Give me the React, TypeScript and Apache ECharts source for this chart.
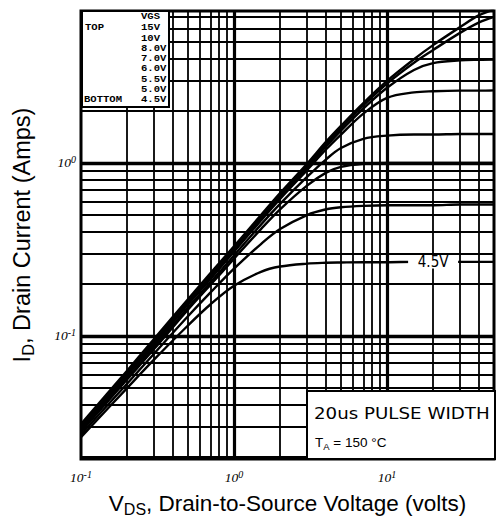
import React, { useEffect, useRef } from "react";
import * as echarts from "echarts";

// Drain-to-source voltage sample points (volts)
const VDS = [0.1, 0.2, 0.3, 0.5, 0.7, 1, 1.5, 2, 3, 4, 5, 7, 10, 15, 20, 30, 40, 50];

// Drain current (A) per gate voltage
const VGS_NAMES = ["15V", "10V", "8.0V", "7.0V", "6.0V", "5.5V", "5.0V", "4.5V"];
const ID_15V = [0.031, 0.063, 0.096, 0.163, 0.23, 0.33, 0.5, 0.67, 0.99, 1.33, 1.64, 2.22, 2.98, 3.98, 4.8, 6.1, 7.15, 7.7];
const ID_10V = [0.030, 0.061, 0.093, 0.158, 0.222, 0.32, 0.485, 0.65, 0.96, 1.29, 1.59, 2.15, 2.88, 3.8, 4.5, 5.65, 6.5, 7.0];
const ID_8V = [0.0295, 0.06, 0.091, 0.155, 0.218, 0.314, 0.475, 0.635, 0.94, 1.25, 1.54, 2.06, 2.72, 3.45, 3.78, 3.92, 3.95, 3.96];
const ID_7V = [0.029, 0.059, 0.089, 0.152, 0.213, 0.307, 0.465, 0.62, 0.91, 1.2, 1.46, 1.93, 2.38, 2.56, 2.6, 2.62, 2.62, 2.63];
const ID_6V = [0.0285, 0.057, 0.086, 0.146, 0.204, 0.292, 0.44, 0.58, 0.83, 1.05, 1.22, 1.38, 1.44, 1.46, 1.46, 1.47, 1.47, 1.47];
const ID_5V5 = [0.028, 0.056, 0.084, 0.142, 0.197, 0.28, 0.415, 0.54, 0.74, 0.88, 0.95, 0.99, 1.0, 1.0, 1.0, 1.0, 1.0, 1.0];
const ID_5V = [0.027, 0.053, 0.079, 0.13, 0.178, 0.245, 0.34, 0.415, 0.5, 0.54, 0.555, 0.565, 0.57, 0.57, 0.57, 0.575, 0.575, 0.575];
const ID_4V5 = [0.026, 0.05, 0.073, 0.115, 0.152, 0.195, 0.235, 0.252, 0.262, 0.265, 0.266, 0.267, 0.267, 0.268, 0.268, 0.268, 0.268, 0.268];

// Axis ranges
const X_MIN = 0.1;
const X_MAX = 50;
const Y_MIN = 0.01945;
const Y_MAX = 7.56;

// Log grid lines
const X_GRID = [0.2, 0.3, 0.4, 0.5, 0.6, 0.7, 0.8, 0.9, 1, 2, 3, 4, 5, 6, 7, 8, 9, 10, 20, 30, 40];
const Y_GRID = [0.02, 0.03, 0.04, 0.05, 0.06, 0.07, 0.08, 0.09, 0.1, 0.2, 0.3, 0.4, 0.5, 0.6, 0.7, 0.8, 0.9, 1, 2, 3, 4, 5, 6, 7];
const X_MAJOR = [1, 10];
const Y_MAJOR = [0.1, 1];

// In-plot curve label for the 4.5V curve
const LABEL_45_VDS = 20;
const LABEL_45_ID = 0.268;

const LEGEND_LINES = ["15V", "10V", "8.0V", "7.0V", "6.0V", "5.5V", "5.0V", "4.5V"];

export default function App() {
  const ref = useRef<HTMLDivElement>(null);

  useEffect(() => {
    const chart = echarts.init(ref.current!, null, { renderer: "svg" });
    const curves = [ID_15V, ID_10V, ID_8V, ID_7V, ID_6V, ID_5V5, ID_5V, ID_4V5];

    const powLabel = (v: number) => {
      const e = Math.log10(v);
      const r = Math.round(e);
      if (Math.abs(e - r) > 1e-6) return "";
      return `{b|10}{e|${r}}`;
    };
    const tickRich = {
      b: { fontSize: 13.5, fontFamily: "Liberation Serif", fontStyle: "italic", color: "#000", lineHeight: 17, verticalAlign: "middle" },
      e: { fontSize: 10, fontFamily: "Liberation Serif", fontStyle: "italic", color: "#000", lineHeight: 10, verticalAlign: "top" },
    };
    const xNameRich = {
      v: { fontSize: 22.5, fontFamily: "Liberation Sans", color: "#000", lineHeight: 28, verticalAlign: "middle" },
      s: { fontSize: 16, fontFamily: "Liberation Sans", color: "#000", lineHeight: 12, verticalAlign: "bottom" },
    };
    const yNameRich = {
      v: { fontSize: 23.5, fontFamily: "Liberation Sans", color: "#000", lineHeight: 28, verticalAlign: "middle" },
      s: { fontSize: 16.5, fontFamily: "Liberation Sans", color: "#000", lineHeight: 12, verticalAlign: "bottom" },
    };

    const gridLineData = [
      ...X_GRID.map((v) => ({ xAxis: v, lineStyle: { width: X_MAJOR.includes(v) ? 3.2 : 1.8 } })),
      ...Y_GRID.map((v) => ({ yAxis: v, lineStyle: { width: Y_MAJOR.includes(v) ? 3.4 : 1.8 } })),
    ];

    const series: any[] = curves.map((arr, idx) => ({
      name: VGS_NAMES[idx],
      type: "line",
      data: VDS.map((v, i) => [v, arr[i]]),
      showSymbol: false,
      symbol: "none",
      smooth: 0.35,
      silent: true,
      clip: true,
      z: 3,
      lineStyle: { color: "#000", width: 2.4 },
      markLine:
        idx === 0
          ? {
              silent: true,
              z: 1,
              symbol: ["none", "none"],
              label: { show: false },
              lineStyle: { color: "#000", type: "solid" },
              data: gridLineData,
            }
          : undefined,
      markPoint:
        idx === curves.length - 1
          ? {
              silent: true,
              z: 6,
              symbol: "rect",
              symbolSize: [50, 13],
              itemStyle: { color: "#fff" },
              label: {
                show: true,
                position: "inside",
                formatter: "4.5V",
                color: "#000",
                fontSize: 15,
                fontFamily: "DejaVu Sans Condensed",
              },
              data: [{ coord: [LABEL_45_VDS, LABEL_45_ID] }],
            }
          : undefined,
    }));

    const legendFont = { fontFamily: "Liberation Mono", fontWeight: "bold", fontSize: 8.8, fill: "#000" };
    const legendText = (text: string, x: number, y: number) => ({
      type: "text",
      z: 101,
      x,
      y,
      scaleX: 1.2,
      style: { text, ...legendFont, align: "left", verticalAlign: "middle" },
    });

    const graphic: any[] = [
      {
        type: "rect",
        z: 100,
        shape: { x: 82, y: 11, width: 87, height: 96 },
        style: { fill: "#fff", stroke: "#000", lineWidth: 2 },
      },
      legendText("VGS", 141, 17),
      legendText("TOP", 85, 28),
      legendText("BOTTOM", 84, 100),
      ...LEGEND_LINES.map((t, i) => legendText(t, 141, 28 + i * 10.3)),
      {
        type: "rect",
        z: 100,
        shape: { x: 307, y: 391, width: 188, height: 68 },
        style: { fill: "#fff", stroke: "#000", lineWidth: 2 },
      },
      {
        type: "text",
        z: 101,
        x: 314,
        y: 413,
        scaleX: 1.14,
        style: { text: "20us PULSE WIDTH", fontFamily: "DejaVu Sans", fontSize: 16, fill: "#000", align: "left", verticalAlign: "middle" },
      },
      {
        type: "text",
        z: 101,
        x: 315,
        y: 442,
        style: {
          text: "{t|T}{s|A}{t| = 150 °C}",
          align: "left",
          verticalAlign: "middle",
          rich: {
            t: { fontFamily: "Liberation Sans", fontSize: 13.5, fill: "#000", lineHeight: 18, verticalAlign: "middle" },
            s: { fontFamily: "Liberation Sans", fontSize: 9.5, fill: "#000", lineHeight: 8, verticalAlign: "bottom" },
          },
        },
      },
    ];

    chart.setOption({
      animation: false,
      backgroundColor: "#fff",
      grid: {
        left: 81,
        right: 2,
        top: 11,
        bottom: 58,
        containLabel: false,
        outerBoundsMode: "none",
        show: true,
        borderColor: "#000",
        borderWidth: 3,
        backgroundColor: "#fff",
      },
      xAxis: {
        type: "log",
        logBase: 10,
        min: X_MIN,
        max: X_MAX,
        name: "{v|V}{s|DS}{v|, Drain-to-Source Voltage (volts)}",
        nameLocation: "middle",
        nameGap: 30,
        nameTextStyle: { rich: xNameRich },
        axisLine: { show: false },
        axisTick: { show: false },
        splitLine: { show: false },
        minorSplitLine: { show: false },
        axisLabel: { show: true, showMinLabel: true, showMaxLabel: true, margin: 10, formatter: powLabel, rich: tickRich },
      },
      yAxis: {
        type: "log",
        logBase: 10,
        min: Y_MIN,
        max: Y_MAX,
        name: "{v|I}{s|D}{v|, Drain Current (Amps)}",
        nameLocation: "middle",
        nameGap: 45,
        nameTextStyle: { rich: yNameRich },
        axisLine: { show: false },
        axisTick: { show: false },
        splitLine: { show: false },
        axisLabel: { show: true, margin: 5, formatter: powLabel, rich: tickRich },
      },
      series,
      graphic,
    });

    return () => chart.dispose();
  }, []);

  return (
    <div
      ref={ref}
      style={{ position: "fixed", left: 0, top: 0, width: 496, height: 517, background: "#fff" }}
    />
  );
}
